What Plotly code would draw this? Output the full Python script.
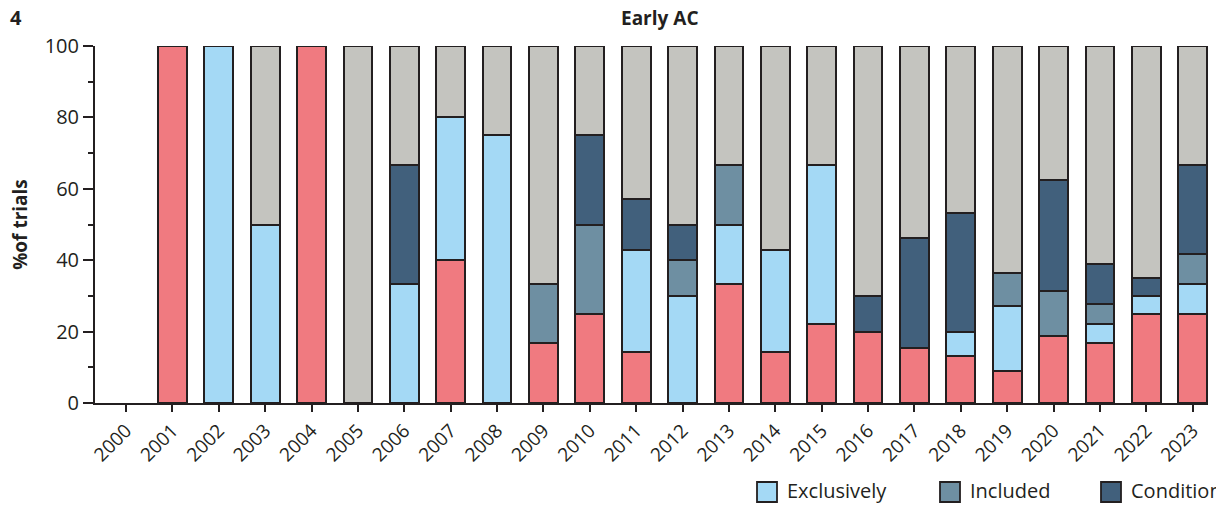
import plotly.graph_objects as go

years = [str(y) for y in range(2000, 2024)]

# segment heights (% of trials), bottom to top
excluded = [None, 100, None, None, 100, None, None, 40, None, 16.7, 25, 14.3, None, 33.3,
            14.3, 22.2, 20, 15.4, 13.3, 9.1, 18.8, 16.7, 25, 25]
exclusively = [None, None, 100, 50, None, None, 33.3, 40, 75, None, None, 28.6, 30, 16.7,
               28.6, 44.5, None, None, 6.7, 18.2, None, 5.5, 5, 8.3]
included = [None, None, None, None, None, None, None, None, None, 16.6, 25, None, 10, 16.7,
            None, None, None, None, None, 9.1, 12.5, 5.6, None, 8.4]
conditional = [None, None, None, None, None, None, 33.4, None, None, None, 25, 14.2, 10, None,
               None, None, 10, 30.8, 33.3, None, 31.2, 11.1, 5, 25]
not_reported = [None, None, None, 50, None, 100, 33.3, 20, 25, 66.7, 25, 42.9, 50, 33.3,
                57.1, 33.3, 70, 53.8, 46.7, 63.6, 37.5, 61.1, 65, 33.3]

series = [
    ("Excluded", excluded, "#F07A80"),
    ("Exclusively", exclusively, "#A4D9F5"),
    ("Included", included, "#6E8FA2"),
    ("Conditional", conditional, "#41607C"),
    ("Not reported", not_reported, "#C4C4BF"),
]
legend_items = [("Exclusively", "#A4D9F5"), ("Included", "#6E8FA2"), ("Conditional", "#41607C")]

INK = "#231F20"
FONT = "Open Sans"

fig = go.Figure()
for name, vals, col in series:
    fig.add_trace(go.Bar(
        x=years, y=vals, name=name, width=0.62,
        marker=dict(color=col, line=dict(color=INK, width=2)),
        showlegend=False,
    ))

W, H = 1216, 506
ML, MR, MT, MB = 95, 8, 46, 103
pw, ph = W - ML - MR, H - MT - MB


def px(x):
    return (x - ML) / pw


def py(y):
    return (H - MB - y) / ph


shapes = []
annotations = []
# manual legend (clipped at the right edge as in the reference)
leg_x = [757, 940, 1101]
for (name, col), x0 in zip(legend_items, leg_x):
    shapes.append(dict(type="rect", xref="paper", yref="paper",
                       x0=px(x0), x1=px(x0 + 20), y0=py(502), y1=py(482),
                       fillcolor=col, line=dict(color=INK, width=1.8)))
    annotations.append(dict(text=name, xref="paper", yref="paper",
                            x=px(x0 + 28), y=py(490), xanchor="left", yanchor="middle",
                            showarrow=False, font=dict(family=FONT, size=20, color=INK)))

annotations.append(dict(text="<b>4</b>", xref="paper", yref="paper", x=px(8), y=py(17),
                        xanchor="left", yanchor="middle", showarrow=False,
                        font=dict(family=FONT, size=20, color=INK)))
annotations.append(dict(text="<b>Early AC</b>", xref="paper", yref="paper", x=px(660), y=py(18),
                        xanchor="center", yanchor="middle", showarrow=False,
                        font=dict(family=FONT, size=19, color=INK)))

fig.update_layout(
    width=W, height=H,
    margin=dict(l=ML, r=MR, t=MT, b=MB, pad=0),
    barmode="stack",
    plot_bgcolor="white", paper_bgcolor="white",
    font=dict(family=FONT, size=19, color=INK),
    shapes=shapes, annotations=annotations,
    showlegend=False,
)
fig.update_xaxes(
    type="category", categoryorder="array", categoryarray=years,
    range=[-0.67, 23.33],
    showline=True, linecolor=INK, linewidth=2,
    ticks="outside", ticklen=7, tickwidth=2, tickcolor=INK,
    tickangle=-45, tickfont=dict(family=FONT, size=19, color=INK),
    showgrid=False, zeroline=False,
)
fig.update_yaxes(
    range=[0, 100], dtick=20, tick0=0,
    showline=True, linecolor=INK, linewidth=2,
    ticks="outside", ticklen=10, tickwidth=2, tickcolor=INK,
    tickfont=dict(family=FONT, size=20, color=INK),
    minor=dict(dtick=10, ticks="outside", ticklen=5, tickwidth=2, tickcolor=INK, showgrid=False),
    showgrid=False, zeroline=False,
    title=dict(text="<b>%of trials</b>", standoff=12, font=dict(family=FONT, size=19, color=INK)),
)

fig.write_html("out.html")
